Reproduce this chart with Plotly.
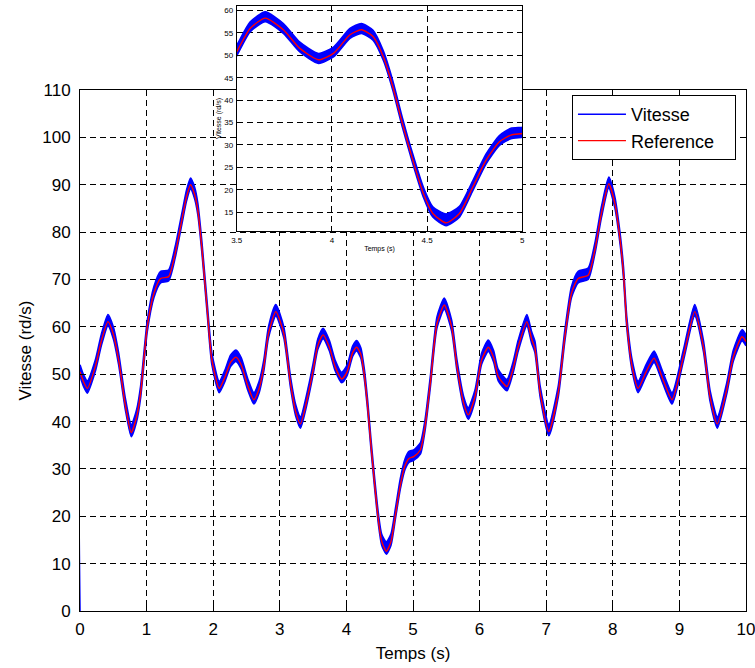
import plotly.graph_objects as go

# time (s)
t = [0.00, 0.05, 0.11, 0.23, 0.32, 0.42, 0.50, 0.58, 0.68, 0.77,
     0.85, 0.91, 1.01, 1.11, 1.21, 1.33, 1.43, 1.53, 1.60, 1.66,
     1.72, 1.77, 1.83, 1.91, 1.98, 2.09, 2.18, 2.26, 2.34, 2.42,
     2.52, 2.61, 2.69, 2.76, 2.83, 2.94, 3.06, 3.16, 3.24, 3.31,
     3.43, 3.50, 3.57, 3.65, 3.745, 3.83, 3.93, 4.01, 4.095, 4.155,
     4.216, 4.27, 4.32, 4.37, 4.425, 4.48, 4.53, 4.60, 4.67, 4.74,
     4.81, 4.88, 4.94, 5.01, 5.11, 5.18, 5.26, 5.36, 5.47, 5.58,
     5.66, 5.76, 5.83, 5.93, 6.03, 6.13, 6.21, 6.28, 6.41, 6.50,
     6.58, 6.71, 6.78, 6.83, 6.91, 7.04, 7.18, 7.28, 7.38, 7.48,
     7.63, 7.73, 7.83, 7.94, 8.03, 8.11, 8.16, 8.21, 8.29, 8.38,
     8.50, 8.62, 8.75, 8.89, 9.06, 9.23, 9.36, 9.46, 9.57, 9.71,
     9.81, 9.94, 10.0]

# Reference speed (rd/s)
reference = [50.5, 48.5, 47.0, 51.6, 57.0, 61.1, 58.5, 53.0, 43.5, 37.7,
             41.0, 46.0, 60.0, 67.1, 70.2, 70.6, 75.5, 82.6, 87.5, 90.0,
             88.0, 84.5, 76.6, 63.6, 53.0, 47.0, 49.5, 52.5, 53.6, 52.0,
             47.5, 44.6, 47.0, 51.6, 58.6, 63.2, 58.6, 48.1, 42.0, 39.5,
             46.0, 50.8, 56.0, 58.3, 55.7, 51.6, 49.0, 50.5, 54.6, 55.7,
             54.2, 49.7, 43.0, 34.8, 26.6, 19.2, 14.7, 12.6, 14.7, 20.6,
             26.6, 30.7, 32.2, 32.6, 34.0, 38.9, 48.1, 60.7, 64.6, 60.0,
             51.6, 43.9, 41.4, 45.2, 53.0, 55.7, 53.5, 49.5, 47.4, 51.0,
             55.8, 61.1, 57.5, 55.5, 46.0, 37.9, 46.0, 57.9, 67.1, 70.2,
             70.9, 76.2, 84.0, 90.2, 86.1, 78.3, 71.3, 60.7, 51.6, 47.0,
             50.5, 53.4, 49.0, 44.6, 53.7, 63.2, 55.8, 45.2, 39.5, 46.7,
             53.7, 57.9, 56.9]

# Measured speed (rd/s): upper and lower edges of the ripple band
vitesse_hi = [52.0, 50.0, 48.6, 53.0, 58.4, 62.6, 60.0, 54.5, 45.0, 39.3,
              42.5, 47.5, 61.3, 68.5, 71.7, 72.0, 77.0, 84.0, 88.9, 91.4,
              89.5, 86.0, 78.0, 65.0, 54.5, 48.5, 51.0, 54.0, 55.1, 53.5,
              49.0, 46.1, 48.5, 53.0, 60.0, 64.7, 60.0, 49.5, 43.5, 41.0,
              47.4, 52.2, 57.4, 59.7, 57.1, 53.0, 50.4, 51.9, 56.0, 57.1,
              55.6, 51.0, 44.3, 36.1, 27.9, 20.6, 16.2, 14.6, 16.3, 22.0,
              28.0, 32.1, 33.7, 34.0, 35.5, 40.3, 49.5, 62.1, 66.1, 61.4,
              53.0, 45.3, 42.9, 46.6, 54.4, 57.2, 55.0, 51.0, 48.9, 52.4,
              57.2, 62.6, 59.0, 57.0, 47.4, 39.4, 47.4, 59.3, 68.5, 71.7,
              72.4, 77.6, 85.4, 91.6, 87.5, 79.7, 72.7, 62.1, 53.0, 48.5,
              52.0, 54.9, 50.5, 46.1, 55.1, 64.7, 57.2, 46.6, 41.0, 48.1,
              55.1, 59.4, 58.3]

vitesse_lo = [49.4, 47.5, 46.0, 50.6, 56.0, 60.2, 57.5, 52.0, 42.6, 36.8,
              40.0, 45.0, 59.0, 66.2, 69.3, 69.7, 74.6, 81.7, 86.6, 89.1,
              87.1, 83.6, 75.7, 62.7, 52.0, 46.1, 48.6, 51.6, 52.7, 51.1,
              46.6, 43.7, 46.1, 50.7, 57.7, 62.3, 57.7, 47.2, 41.1, 38.6,
              45.1, 49.9, 55.2, 57.5, 54.9, 50.8, 48.2, 49.7, 53.8, 54.9,
              53.4, 48.9, 42.2, 34.0, 25.8, 18.4, 13.9, 12.0, 13.9, 19.8,
              25.8, 29.9, 31.4, 31.8, 33.1, 38.0, 47.2, 59.8, 63.7, 59.1,
              50.7, 43.0, 40.5, 44.3, 52.1, 54.8, 52.6, 48.6, 46.5, 50.1,
              54.9, 60.2, 56.6, 54.6, 45.1, 37.0, 45.1, 57.0, 66.2, 69.3,
              70.0, 75.3, 83.1, 89.3, 85.2, 77.4, 70.4, 59.8, 50.7, 46.1,
              49.6, 52.5, 48.1, 43.7, 52.8, 62.3, 54.9, 44.3, 38.6, 45.8,
              52.8, 57.0, 56.0]

vitesse_start = 0.0  # measured speed at t = 0

x_ticks_main = [0, 1, 2, 3, 4, 5, 6, 7, 8, 9, 10]
y_ticks_main = [0, 10, 20, 30, 40, 50, 60, 70, 80, 90, 100, 110]
x_ticks_inset = [3.5, 4, 4.5, 5]
x_ticklabels_inset = ["3.5", "4", "4.5", "5"]
y_ticks_inset = [15, 20, 25, 30, 35, 40, 45, 50, 55, 60]

BLUE = "#0000ff"
RED = "#ff0000"
BLACK = "#000000"
FONT = "Arial, Liberation Sans, sans-serif"
PAD = "\u00a0\u00a0\u00a0"

fig = go.Figure()

for xa, ya, show in (("x", "y", True), ("x2", "y2", False)):
    fig.add_trace(go.Scatter(
        x=t, y=vitesse_hi, xaxis=xa, yaxis=ya, mode="lines", name="Vitesse",
        line=dict(color=BLUE, width=1.6, shape="spline", smoothing=0.6),
        showlegend=show, legendrank=1, hoverinfo="skip"))
    fig.add_trace(go.Scatter(
        x=[t[0]] + t, y=[vitesse_start] + vitesse_lo, xaxis=xa, yaxis=ya,
        mode="lines", fill="tonexty", fillcolor=BLUE,
        line=dict(color=BLUE, width=1.6, shape="spline", smoothing=0.6),
        showlegend=False, hoverinfo="skip"))
    fig.add_trace(go.Scatter(
        x=t, y=reference, xaxis=xa, yaxis=ya, mode="lines", name="Reference" + PAD,
        line=dict(color=RED, width=1.4, shape="spline", smoothing=0.6),
        showlegend=show, legendrank=2))

grid = dict(showgrid=True, gridcolor=BLACK, gridwidth=1, griddash="6px,4px",
            zeroline=False, showline=True, linecolor=BLACK, linewidth=1,
            mirror="ticks", ticks="inside", tickcolor=BLACK, automargin=False,
            ticklabeloverflow="allow")

fig.update_layout(
    width=755, height=668,
    margin=dict(l=80, r=9, t=5, b=57),
    paper_bgcolor="white", plot_bgcolor="white",
    font=dict(family=FONT, color=BLACK, size=17),
    showlegend=True,
    legend=dict(x=0.7387, y=0.8515, xanchor="left", yanchor="top",
                bordercolor=BLACK, borderwidth=1, bgcolor="white",
                font=dict(size=18, family=FONT, color=BLACK),
                traceorder="normal", itemwidth=48, tracegroupgap=0),
    xaxis=dict(domain=[0, 1], range=[0, 10], tickvals=x_ticks_main,
               ticklen=5, ticklabelstandoff=3,
               title=dict(text="Temps (s)", font=dict(size=17, color=BLACK), standoff=8),
               tickfont=dict(size=17, color=BLACK), **grid),
    yaxis=dict(domain=[0, 0.8597], range=[0, 110], tickvals=y_ticks_main,
               ticklen=5, ticklabelstandoff=5,
               title=dict(text="Vitesse (rd/s)", font=dict(size=17, color=BLACK), standoff=6),
               tickfont=dict(size=17, color=BLACK), **grid),
    xaxis2=dict(domain=[0.2353, 0.6641], range=[3.5, 5], anchor="y2",
                tickvals=x_ticks_inset, ticktext=x_ticklabels_inset,
                ticklen=3, ticklabelstandoff=1,
                title=dict(text="Temps (s)", font=dict(size=7, color=BLACK), standoff=2),
                tickfont=dict(size=8, color=BLACK), **grid),
    yaxis2=dict(domain=[0.6271, 0.9983], range=[10.8, 61], anchor="x2",
                tickvals=y_ticks_inset, ticklen=3, ticklabelstandoff=1,
                title=dict(text="Vitesse (rd/s)", font=dict(size=7, color=BLACK), standoff=1),
                tickfont=dict(size=8, color=BLACK), **grid),
)

fig.write_html("out.html")
